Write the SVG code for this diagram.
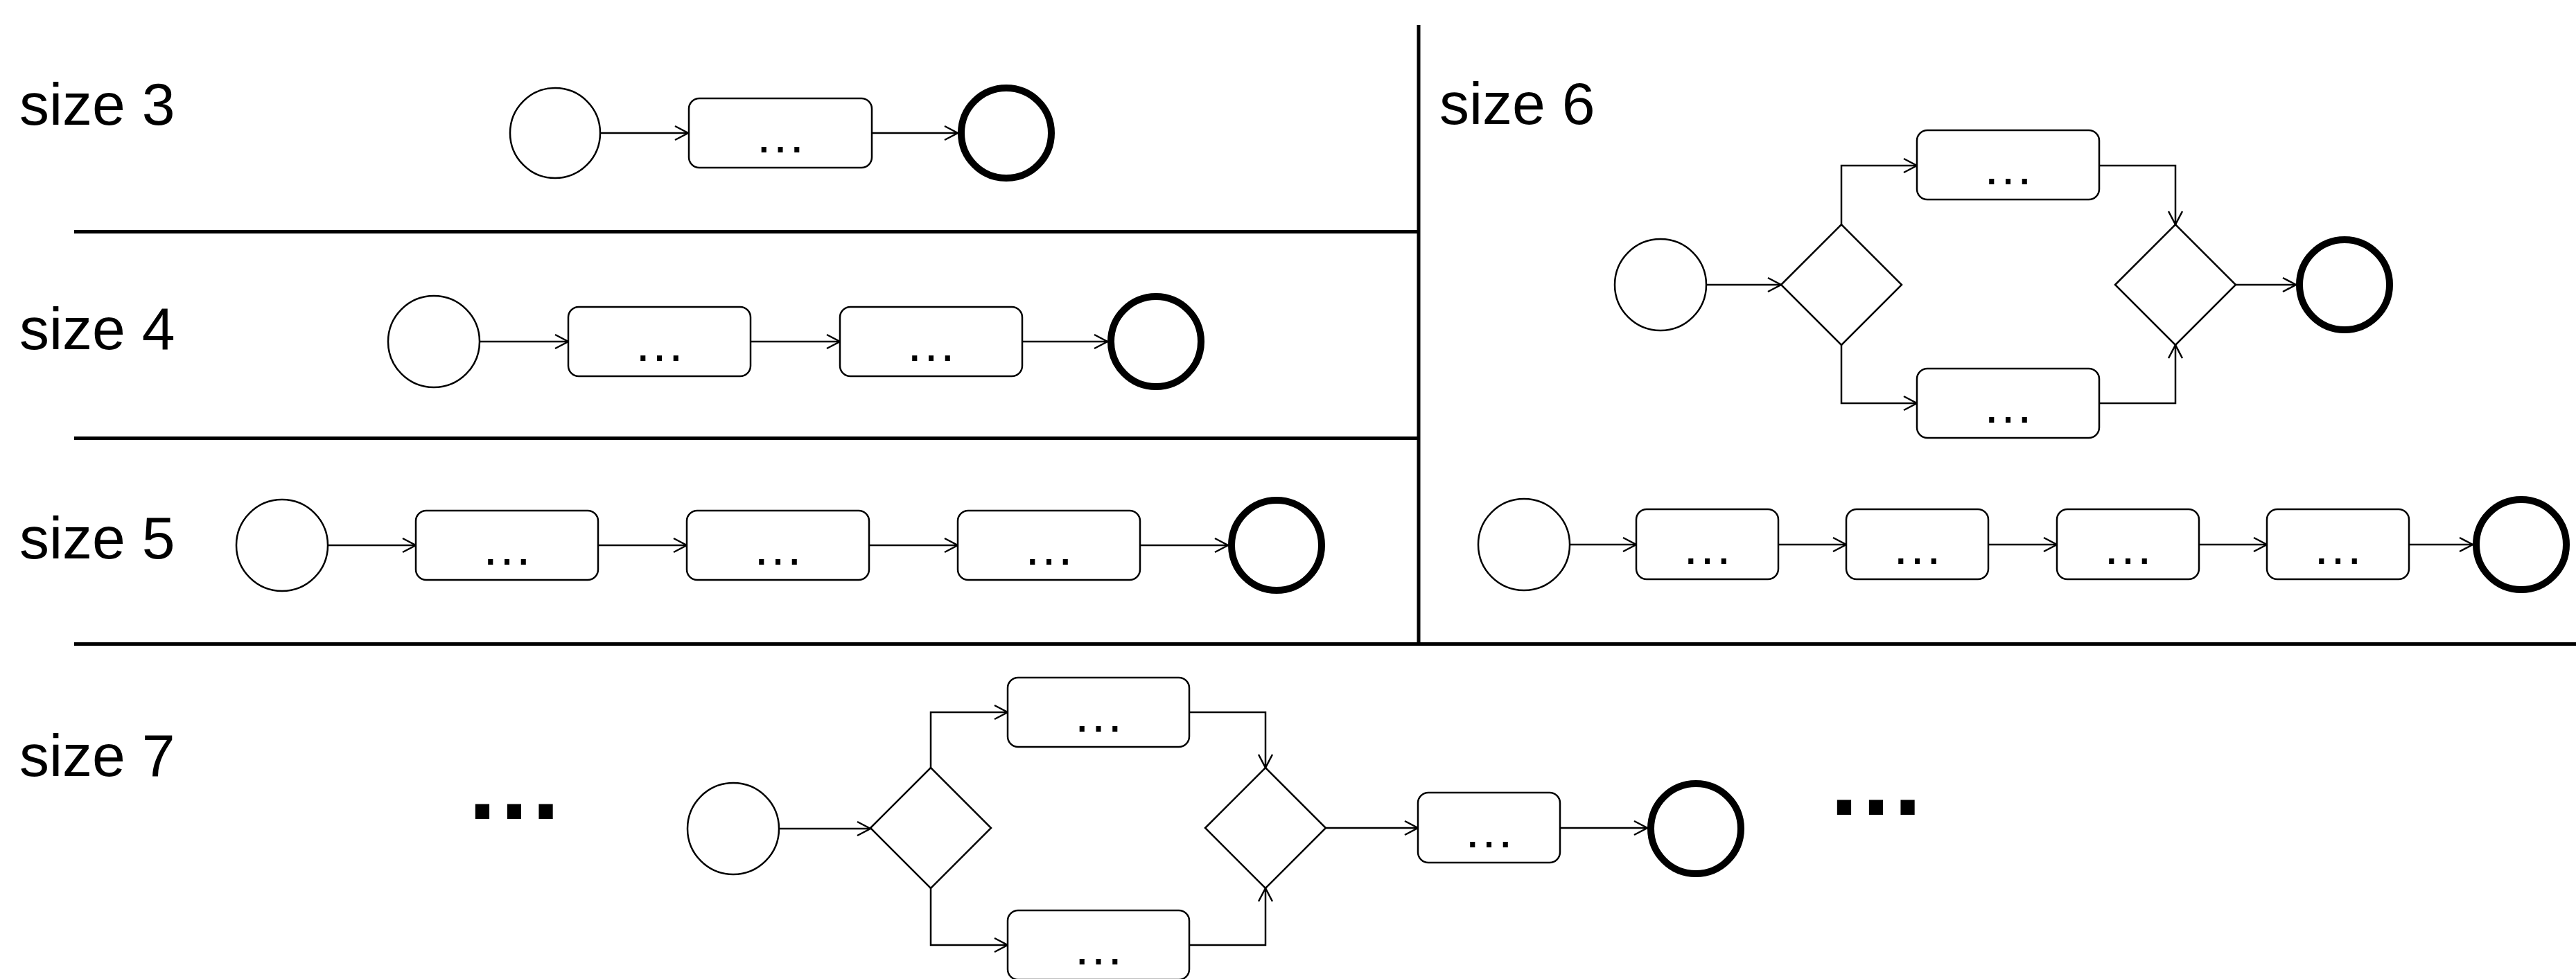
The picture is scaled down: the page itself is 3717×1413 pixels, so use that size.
<svg xmlns="http://www.w3.org/2000/svg" width="3717" height="1413" viewBox="0 0 3717 1413">
<style>
.lbl{font-family:"Liberation Sans",Arial,sans-serif;font-size:86px;fill:#000}
.dots{font-family:"Liberation Sans",Arial,sans-serif;font-size:75px;fill:#000;text-anchor:middle}
.big{font-family:"Liberation Sans",Arial,sans-serif;font-size:144px;font-weight:bold;fill:#000;text-anchor:middle}
.div{stroke:#000;stroke-width:5;fill:none}
.task{fill:#fff;stroke:#000;stroke-width:2.5}
.start{fill:#fff;stroke:#000;stroke-width:2.5}
.end{fill:#fff;stroke:#000;stroke-width:10}
.gw{fill:#fff;stroke:#000;stroke-width:2.5}
.edge{fill:none;stroke:#000;stroke-width:2.5;marker-end:url(#arr)}
</style>
<defs>
<marker id="arr" markerUnits="userSpaceOnUse" markerWidth="30" markerHeight="30" viewBox="-25 -15 30 30" refX="0" refY="0" orient="auto" overflow="visible">
<path d="M-19,-10 L0,0 L-19,10" fill="none" stroke="#000" stroke-width="2.5"/>
</marker>
</defs>
<rect width="3717" height="1413" fill="#fff"/>
<g id="dividers">
<line class="div" x1="2047" y1="36" x2="2047" y2="929.5"/>
<line class="div" x1="107" y1="334.5" x2="2047" y2="334.5"/>
<line class="div" x1="107" y1="632.5" x2="2047" y2="632.5"/>
<line class="div" x1="107" y1="929.5" x2="3717" y2="929.5"/>
</g>
<g id="labels">
<text class="lbl" x="28" y="180">size 3</text>
<text class="lbl" x="28" y="504">size 4</text>
<text class="lbl" x="28" y="806">size 5</text>
<text class="lbl" x="2077" y="179">size 6</text>
<text class="lbl" x="28" y="1120">size 7</text>
<text class="big" x="742" y="1182">…</text>
<text class="big" x="2707" y="1176">…</text>
</g>
<g id="connectors">
<line class="edge" x1="866" y1="192" x2="993" y2="192"/>
<line class="edge" x1="1258" y1="192" x2="1382" y2="192"/>
<line class="edge" x1="692" y1="493" x2="820" y2="493"/>
<line class="edge" x1="1083" y1="493" x2="1212" y2="493"/>
<line class="edge" x1="1475" y1="493" x2="1598" y2="493"/>
<line class="edge" x1="473" y1="787" x2="600" y2="787"/>
<line class="edge" x1="863" y1="787" x2="991" y2="787"/>
<line class="edge" x1="1254" y1="787" x2="1382" y2="787"/>
<line class="edge" x1="1645" y1="787" x2="1772" y2="787"/>
<line class="edge" x1="2462" y1="411" x2="2570" y2="411"/>
<path class="edge" d="M2657,324 V239 H2766"/>
<path class="edge" d="M3029,239 H3139 V324"/>
<path class="edge" d="M2657,498 V582 H2766"/>
<path class="edge" d="M3029,582 H3139 V498"/>
<line class="edge" x1="3226" y1="411" x2="3313" y2="411"/>
<line class="edge" x1="2265" y1="786" x2="2361" y2="786"/>
<line class="edge" x1="2566" y1="786" x2="2664" y2="786"/>
<line class="edge" x1="2869" y1="786" x2="2968" y2="786"/>
<line class="edge" x1="3173" y1="786" x2="3271" y2="786"/>
<line class="edge" x1="3476" y1="786" x2="3568" y2="786"/>
<line class="edge" x1="1124" y1="1196" x2="1256" y2="1196"/>
<path class="edge" d="M1343,1108 V1028 H1454"/>
<path class="edge" d="M1716,1028 H1826 V1108"/>
<path class="edge" d="M1343,1282 V1364 H1454"/>
<path class="edge" d="M1716,1364 H1826 V1282"/>
<line class="edge" x1="1913" y1="1195" x2="2046" y2="1195"/>
<line class="edge" x1="2251" y1="1195" x2="2377" y2="1195"/>
</g>
<g id="s3-start"><circle class="start" cx="801" cy="192" r="65"/></g>
<g id="s3-task1"><rect class="task" x="994" y="142" width="264" height="100" rx="15"/><text class="dots" x="1126" y="220">…</text></g>
<g id="s3-end"><circle class="end" cx="1452" cy="192" r="65"/></g>
<g id="s4-start"><circle class="start" cx="626" cy="493" r="66"/></g>
<g id="s4-task1"><rect class="task" x="820" y="443" width="263" height="100" rx="15"/><text class="dots" x="951.5" y="521">…</text></g>
<g id="s4-task2"><rect class="task" x="1212" y="443" width="263" height="100" rx="15"/><text class="dots" x="1343.5" y="521">…</text></g>
<g id="s4-end"><circle class="end" cx="1668" cy="493" r="65"/></g>
<g id="s5-start"><circle class="start" cx="407" cy="787" r="66"/></g>
<g id="s5-task1"><rect class="task" x="600" y="737" width="263" height="100" rx="15"/><text class="dots" x="731.5" y="815">…</text></g>
<g id="s5-task2"><rect class="task" x="991" y="737" width="263" height="100" rx="15"/><text class="dots" x="1122.5" y="815">…</text></g>
<g id="s5-task3"><rect class="task" x="1382" y="737" width="263" height="100" rx="15"/><text class="dots" x="1513.5" y="815">…</text></g>
<g id="s5-end"><circle class="end" cx="1842" cy="787" r="65"/></g>
<g id="s6a-start"><circle class="start" cx="2396" cy="411" r="66"/></g>
<g id="s6a-split"><polygon class="gw" points="2570,411 2657,324 2744,411 2657,498"/></g>
<g id="s6a-task1"><rect class="task" x="2766" y="188" width="263" height="100" rx="15"/><text class="dots" x="2897.5" y="266">…</text></g>
<g id="s6a-task2"><rect class="task" x="2766" y="532" width="263" height="100" rx="15"/><text class="dots" x="2897.5" y="610">…</text></g>
<g id="s6a-join"><polygon class="gw" points="3052,411 3139,324 3226,411 3139,498"/></g>
<g id="s6a-end"><circle class="end" cx="3383" cy="411" r="65"/></g>
<g id="s6b-start"><circle class="start" cx="2199" cy="786" r="66"/></g>
<g id="s6b-task1"><rect class="task" x="2361" y="735" width="205" height="101" rx="15"/><text class="dots" x="2463.5" y="814">…</text></g>
<g id="s6b-task2"><rect class="task" x="2664" y="735" width="205" height="101" rx="15"/><text class="dots" x="2766.5" y="814">…</text></g>
<g id="s6b-task3"><rect class="task" x="2968" y="735" width="205" height="101" rx="15"/><text class="dots" x="3070.5" y="814">…</text></g>
<g id="s6b-task4"><rect class="task" x="3271" y="735" width="205" height="101" rx="15"/><text class="dots" x="3373.5" y="814">…</text></g>
<g id="s6b-end"><circle class="end" cx="3638" cy="786" r="65"/></g>
<g id="s7-start"><circle class="start" cx="1058" cy="1196" r="66"/></g>
<g id="s7-split"><polygon class="gw" points="1256,1195 1343,1108 1430,1195 1343,1282"/></g>
<g id="s7-task1"><rect class="task" x="1454" y="978" width="262" height="100" rx="15"/><text class="dots" x="1585" y="1056">…</text></g>
<g id="s7-task2"><rect class="task" x="1454" y="1314" width="262" height="100" rx="15"/><text class="dots" x="1585" y="1392">…</text></g>
<g id="s7-join"><polygon class="gw" points="1739,1195 1826,1108 1913,1195 1826,1282"/></g>
<g id="s7-task3"><rect class="task" x="2046" y="1144" width="205" height="101" rx="15"/><text class="dots" x="2148.5" y="1223">…</text></g>
<g id="s7-end"><circle class="end" cx="2447" cy="1196" r="65"/></g>
</svg>
